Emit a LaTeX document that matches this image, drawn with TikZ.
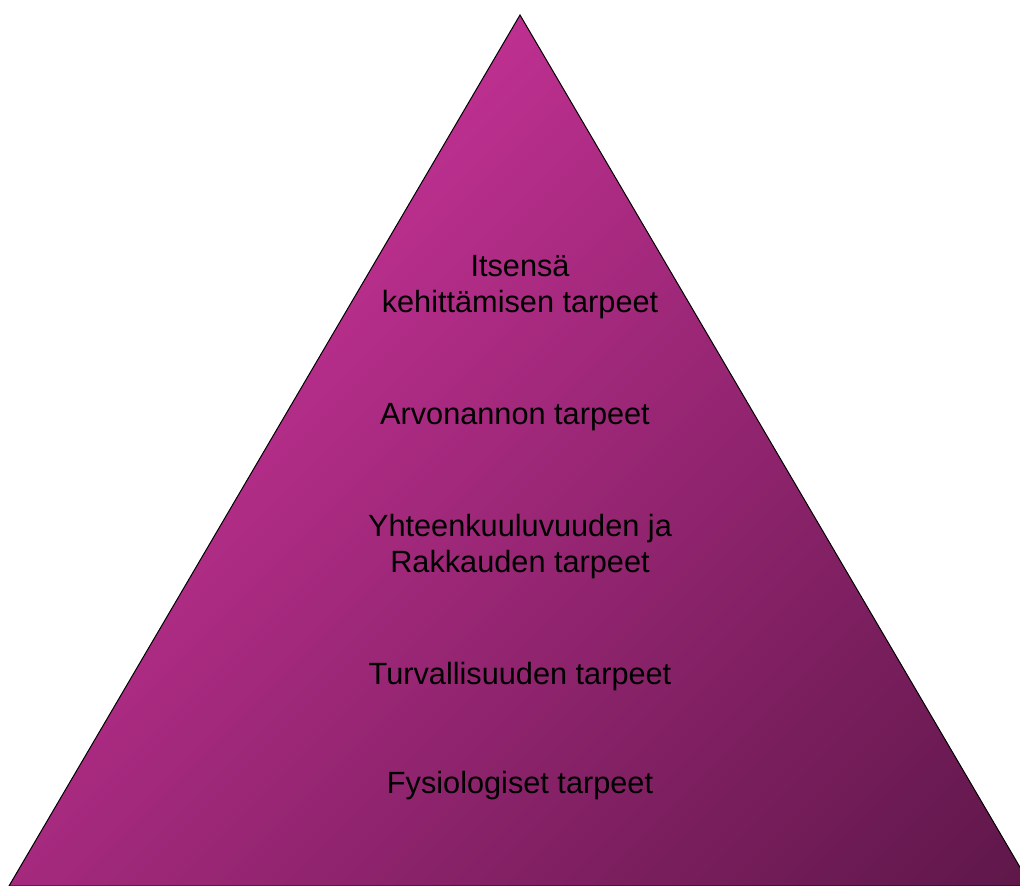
\documentclass[tikz,border=0pt]{standalone}
\usepackage{fontspec}
\setmainfont{Liberation Sans}
\definecolor{gradA}{RGB}{225,57,170}
\definecolor{gradB}{RGB}{94,23,73}
\tikzset{
  label/.style={anchor=base, align=center, inner sep=0pt, text=black,
    font=\fontsize{15.35}{18}\selectfont},
  pyramid/.style={draw=black, line width=0.5pt, line join=miter}
}
\begin{document}
\begin{tikzpicture}[x=0.5pt,y=-0.5pt]
\useasboundingbox (0,0) rectangle (1020,886);
\begin{scope}
  \clip (0,0) rectangle (1020,886);
  \coordinate (apex) at (520,15);
  \coordinate (bl) at (9,886);
  \coordinate (br) at (1031,886);
  \begin{scope}
    \clip (apex) -- (bl) -- (br) -- cycle;
    \shade[transform canvas={shift={(521,450)}, rotate=45},
      top color=gradA, bottom color=gradB]
      (-800,-669) rectangle (800,669);
  \end{scope}
  \draw[pyramid] (apex) -- (bl) -- (br) -- cycle;
\end{scope}
\node[label] (n1) at (520,313) {Itsensä\\kehittämisen tarpeet};
\node[label] (n2) at (515,425) {Arvonannon tarpeet};
\node[label] (n3) at (520,572) {Yhteenkuuluvuuden ja\\Rakkauden tarpeet};
\node[label] (n4) at (520,684) {Turvallisuuden tarpeet};
\node[label] (n5) at (520,793) {Fysiologiset tarpeet};
\end{tikzpicture}
\end{document}
